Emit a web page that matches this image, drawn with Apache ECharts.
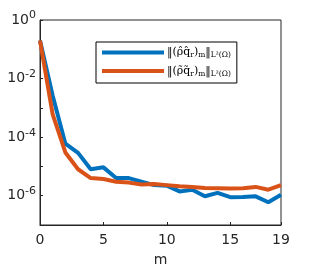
<!DOCTYPE html>
<html><head><meta charset="utf-8">
<script src="https://cdn.jsdelivr.net/npm/echarts@6/dist/echarts.min.js"></script>
<style>html,body{margin:0;padding:0;background:#fff}#c{width:309px;height:272px}</style>
</head><body><div id="c"></div>
<script>
const categories = [0,1,2,3,4,5,6,7,8,9,10,11,12,13,14,15,16,17,18,19];
const xTickLabels = [0,5,10,15,19];
const yTickLabels = ['10^0','10^-2','10^-4','10^-6'];
const blueValues = [0.2, 2.6e-3, 6e-5, 2.9e-5, 8e-6, 9.3e-6, 4e-6, 4e-6, 3e-6, 2.3e-6, 2.2e-6, 1.4e-6, 1.6e-6, 9.6e-7, 1.25e-6, 8.9e-7, 9e-7, 9.5e-7, 6e-7, 1.07e-6];
const redValues = [0.2, 6e-4, 3e-5, 8e-6, 4e-6, 3.7e-6, 3e-6, 2.8e-6, 2.4e-6, 2.5e-6, 2.3e-6, 2.1e-6, 2e-6, 1.85e-6, 1.8e-6, 1.75e-6, 1.8e-6, 2e-6, 1.6e-6, 2.3e-6];
const seriesNames = ['hat', 'tilde'];

const chart = echarts.init(document.getElementById('c'), null, {renderer:'canvas'});
const txt = '#262626';
const legendRich = {
  a: {fontFamily:'DejaVu Serif', fontSize:11, color:'#000'},
  s: {fontFamily:'DejaVu Serif', fontSize:7.5, color:'#000', padding:[6,0,0,0]}
};
chart.setOption({
  animation:false,
  grid:{left:40, right:28, top:20, bottom:46, show:true, borderColor:txt, borderWidth:1, backgroundColor:'transparent'},
  legend:{
    left:96, top:42, orient:'vertical', itemWidth:62, itemHeight:4, itemGap:6,
    icon:'rect', backgroundColor:'#fff', borderColor:'#000', borderWidth:1,
    padding:[5,6,5,6],
    data: seriesNames,
    formatter: function(n){
      return n==='hat' ? '{a|‖(ρ̂q̂}{s|r}{a|)}{s|m}{a|‖}{s|L²(Ω)}' : '{a|‖(ρ̃q̃}{s|r}{a|)}{s|m}{a|‖}{s|L²(Ω)}';
    },
    textStyle:{rich:legendRich, padding:[0,0,0,-2]}
  },
  xAxis:{
    type:'value', min:0, max:19, interval:5,
    name:'m', nameLocation:'middle', nameGap:28,
    nameTextStyle:{fontFamily:'DejaVu Sans', fontSize:14, color:txt},
    axisLine:{show:true, lineStyle:{color:txt}},
    axisTick:{inside:true, length:3, lineStyle:{color:txt}},
    splitLine:{show:false},
    axisLabel:{
      fontFamily:'DejaVu Sans', fontSize:14, color:txt, margin:8,
      showMaxLabel:true, showMinLabel:true,
      formatter:function(v){ return xTickLabels.indexOf(Math.round(v))>=0 ? String(Math.round(v)) : ''; }
    }
  },
  yAxis:{
    type:'log', logBase:10, min:1e-7, max:1,
    axisLine:{show:true, lineStyle:{color:txt}},
    axisTick:{inside:true, length:3, lineStyle:{color:txt}},
    splitLine:{show:false},
    axisLabel:{
      fontFamily:'DejaVu Sans', color:txt, margin:4,
      formatter:function(v){
        const e = Math.round(Math.log10(v));
        const s = '10^' + e;
        if (yTickLabels.indexOf(s) < 0) return '';
        return '{b|10}{s|' + e + '}';
      },
      rich:{ b:{fontSize:14, fontFamily:'DejaVu Sans', color:txt},
             s:{fontSize:11, fontFamily:'DejaVu Sans', color:txt, padding:[0,0,9,0]} }
    }
  },
  series:[
    {name:seriesNames[0], type:'line', data:categories.map((m,i)=>[m,blueValues[i]]), showSymbol:false, symbol:'none',
     lineStyle:{color:'#0072BD', width:4}, itemStyle:{color:'#0072BD'}},
    {name:seriesNames[1], type:'line', data:categories.map((m,i)=>[m,redValues[i]]), showSymbol:false, symbol:'none',
     lineStyle:{color:'#D95319', width:4}, itemStyle:{color:'#D95319'}}
  ]
});
</script></body></html>
